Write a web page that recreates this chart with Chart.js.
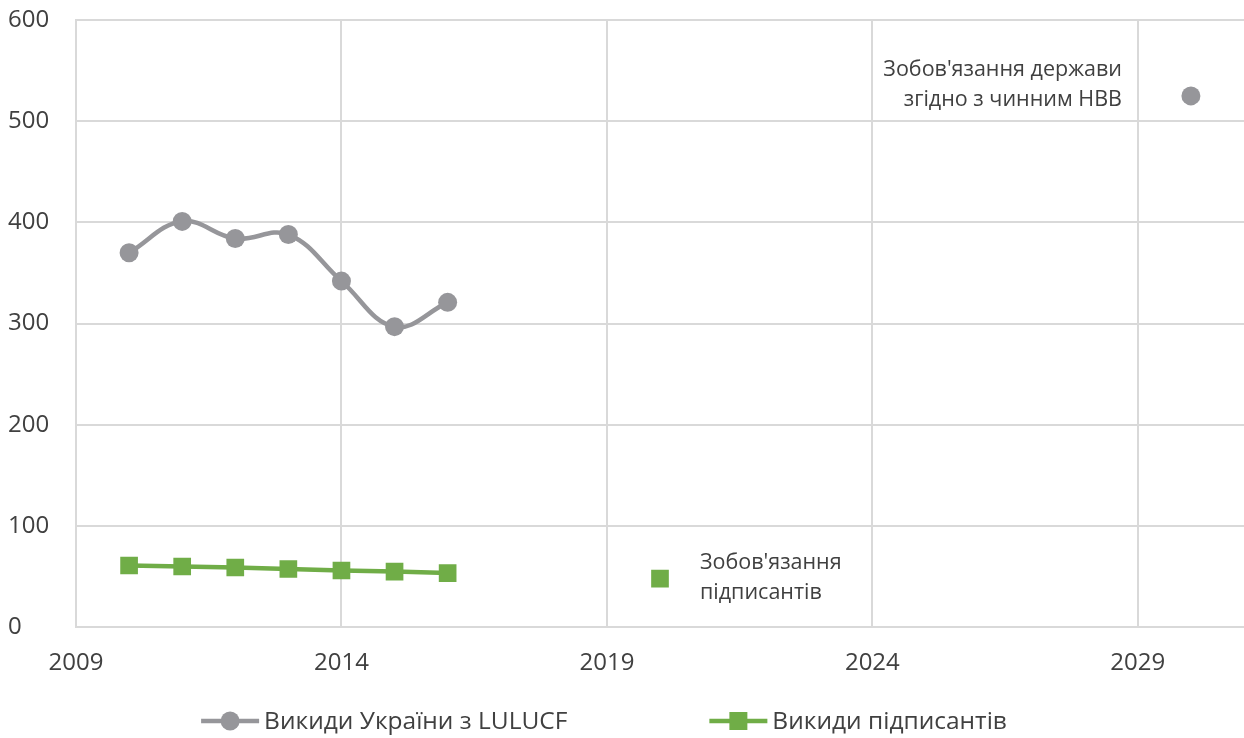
<!DOCTYPE html>
<html>
<head>
<meta charset="utf-8">
<script src="https://cdn.jsdelivr.net/npm/chart.js@4/dist/chart.umd.min.js"></script>
<style>
  html, body { margin: 0; padding: 0; background: #fff; }
  #wrap { width: 1244px; height: 738px; }
</style>
</head>
<body>
<div id="wrap"><canvas id="chart" width="1244" height="738"></canvas></div>
<script>
// Дані
const years = [2010, 2011, 2012, 2013, 2014, 2015, 2016];
const ukraineEmissions = [370, 401, 384, 388, 342, 297, 321];
const signatoriesEmissions = [61, 60, 59, 57.5, 56, 55, 53.5];

const stateTargetYear = 2030;
const stateTargetValue = 525;
const signatoriesTargetYear = 2020;
const signatoriesTargetValue = 48;

const xTicks = [2009, 2014, 2019, 2024, 2029];
const yTicks = [0, 100, 200, 300, 400, 500, 600];

const seriesNames = ['Викиди України з LULUCF', 'Викиди підписантів'];
const stateLabel = ['Зобов\'язання держави', 'згідно з чинним НВВ'];
const signatoriesLabel = ['Зобов\'язання', 'підписантів'];

const GREY = '#96969A';
const GREEN = '#70AD47';
const TEXT = '#404040';
const GRID = '#D9D9D9';
const FONT = "'Open Sans', 'Noto Sans', sans-serif";

function toPoints(xs, ys) {
  return xs.map((x, i) => ({ x: x, y: ys[i] }));
}

// підписи біля окремих точок
const annotationPlugin = {
  id: 'annotations',
  afterDatasetsDraw(chart) {
    const { ctx, scales: { x, y } } = chart;
    ctx.save();
    ctx.fillStyle = TEXT;
    ctx.font = '21.5px ' + FONT;
    ctx.textBaseline = 'middle';

    const sx = x.getPixelForValue(stateTargetYear);
    const sy = y.getPixelForValue(stateTargetValue);
    ctx.textAlign = 'right';
    ctx.fillText(stateLabel[0], sx - 69, sy - 26);
    ctx.fillText(stateLabel[1], sx - 69, sy + 4);

    const gx = x.getPixelForValue(signatoriesTargetYear);
    const gy = y.getPixelForValue(signatoriesTargetValue);
    ctx.textAlign = 'left';
    ctx.fillText(signatoriesLabel[0], gx + 40, gy - 16);
    ctx.fillText(signatoriesLabel[1], gx + 40, gy + 14);
    ctx.restore();
  }
};

// легенда: лінія з маркером
const legendPlugin = {
  id: 'lineLegend',
  afterDraw(chart) {
    const ctx = chart.ctx;
    const cy = chart.height - 17;
    const iconW = 58;
    const gap = 5;
    const itemGap = 142;
    ctx.save();
    ctx.font = '24.5px ' + FONT;
    ctx.textBaseline = 'middle';
    ctx.textAlign = 'left';
    const widths = seriesNames.map(n => iconW + gap + ctx.measureText(n).width);
    const total = widths[0] + widths[1] + itemGap;
    let cx = (chart.width - total) / 2 - 18;
    const styles = [
      { color: GREY, shape: 'circle' },
      { color: GREEN, shape: 'rect' }
    ];
    seriesNames.forEach((name, i) => {
      const st = styles[i];
      ctx.strokeStyle = st.color;
      ctx.lineWidth = 4.5;
      ctx.beginPath();
      ctx.moveTo(cx, cy);
      ctx.lineTo(cx + iconW, cy);
      ctx.stroke();
      ctx.fillStyle = st.color;
      ctx.beginPath();
      if (st.shape === 'circle') {
        ctx.arc(cx + iconW / 2, cy, 9.5, 0, Math.PI * 2);
      } else {
        ctx.rect(cx + iconW / 2 - 9, cy - 9, 18, 18);
      }
      ctx.fill();
      ctx.fillStyle = TEXT;
      ctx.fillText(name, cx + iconW + gap, cy + 1);
      cx += widths[i] + itemGap;
    });
    ctx.restore();
  }
};

new Chart(document.getElementById('chart'), {
  type: 'line',
  data: {
    datasets: [
      {
        label: seriesNames[0],
        data: toPoints(years, ukraineEmissions),
        borderColor: GREY,
        backgroundColor: GREY,
        borderWidth: 4.5,
        pointRadius: 9.5,
        pointHoverRadius: 9.5,
        pointBorderWidth: 0,
        tension: 0.4
      },
      {
        label: seriesNames[1],
        data: toPoints(years, signatoriesEmissions),
        borderColor: GREEN,
        backgroundColor: GREEN,
        borderWidth: 4.5,
        pointStyle: 'rect',
        pointRadius: 12.5,
        pointHoverRadius: 12.5,
        pointBorderWidth: 0,
        tension: 0
      },
      {
        label: 'state',
        data: [{ x: stateTargetYear, y: stateTargetValue }],
        showLine: false,
        backgroundColor: GREY,
        borderColor: GREY,
        pointRadius: 9.5,
        pointBorderWidth: 0
      },
      {
        label: 'signatories',
        data: [{ x: signatoriesTargetYear, y: signatoriesTargetValue }],
        showLine: false,
        backgroundColor: GREEN,
        borderColor: GREEN,
        pointStyle: 'rect',
        pointRadius: 12.5,
        pointBorderWidth: 0
      }
    ]
  },
  options: {
    responsive: false,
    animation: false,
    layout: { autoPadding: false, padding: { top: 20, right: 0, bottom: 38, left: 8 } },
    plugins: {
      legend: { display: false },
      tooltip: { enabled: false }
    },
    scales: {
      x: {
        type: 'linear',
        min: 2009,
        max: 2031,
        afterBuildTicks: s => { s.ticks = xTicks.map(v => ({ value: v })); },
        afterFit: s => { s.paddingRight = 0; },
        grid: { color: GRID, lineWidth: 2, drawTicks: false },
        border: { color: GRID, width: 2 },
        ticks: {
          color: TEXT,
          font: { family: FONT, size: 24 },
          padding: 22,
          maxRotation: 0,
          callback: v => String(v)
        }
      },
      y: {
        min: 0,
        max: 600,
        afterBuildTicks: s => { s.ticks = yTicks.map(v => ({ value: v })); },
        afterFit: s => { s.width = 68; s.paddingTop = 0; },
        grid: { color: GRID, lineWidth: 2, drawTicks: false },
        border: { color: GRID, width: 2 },
        ticks: {
          color: TEXT,
          font: { family: FONT, size: 24 },
          crossAlign: 'far',
          padding: 10
        }
      }
    }
  },
  plugins: [annotationPlugin, legendPlugin]
});
</script>
</body>
</html>
